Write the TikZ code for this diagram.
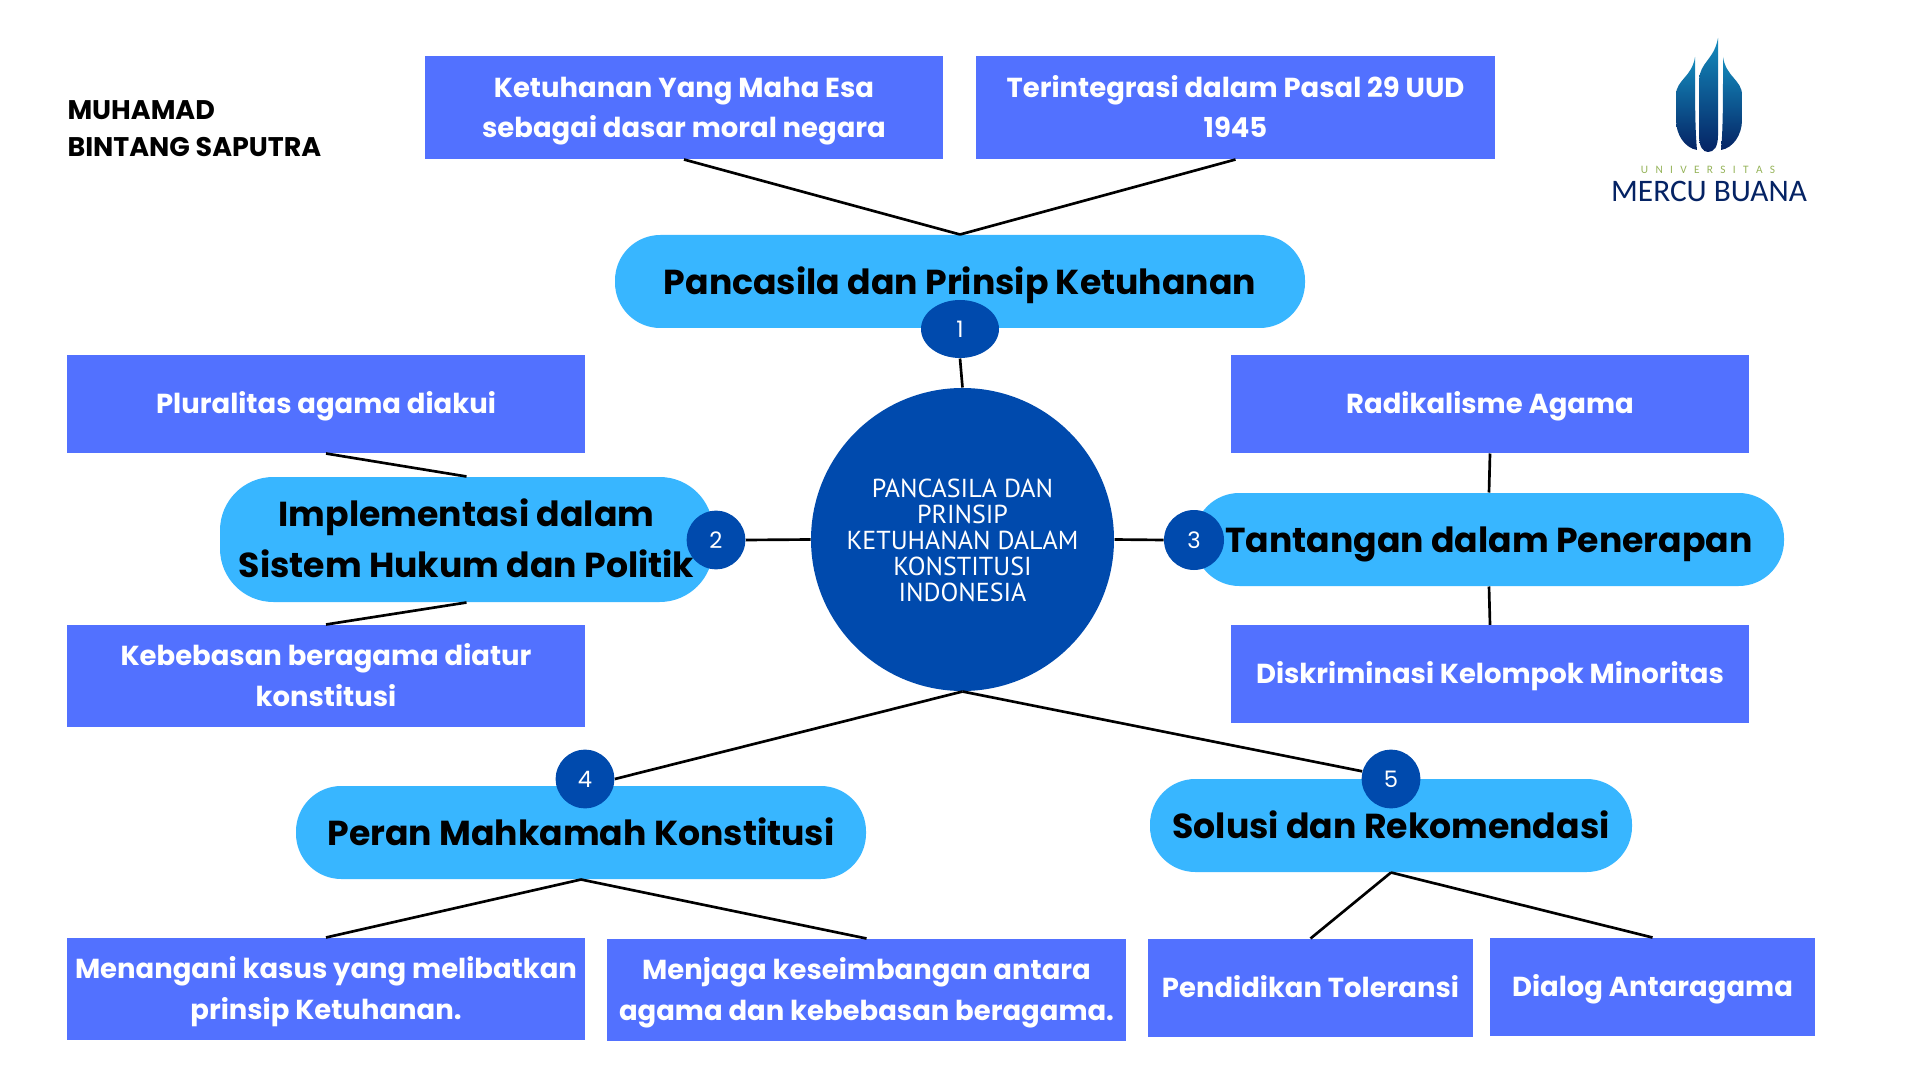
\documentclass[tikz,border=0pt]{standalone}
\usepackage{fontspec}
\setmainfont{Poppins}
\newfontfamily\circfont{PT Sans}
\newfontfamily\logofont{Carlito}
\usetikzlibrary{shapes.geometric}
\definecolor{boxblue}{RGB}{82,113,255}
\definecolor{pillblue}{RGB}{56,182,255}
\definecolor{deepblue}{RGB}{0,74,173}
\definecolor{logotop}{RGB}{20,140,190}
\definecolor{logobot}{RGB}{5,35,100}
\definecolor{logogreen}{RGB}{150,180,90}
\newcommand{\lineup}[1]{\rule{0pt}{#1}}
\tikzset{every picture/.style={line width=0.75pt}}
\tikzset{
  lift/.style={execute at begin node=\rule{0pt}{#1}},
  infobox/.style={fill=boxblue,text=white,align=center,inner sep=0pt,font=\fontsize{20.6}{30.5}\selectfont\bfseries,lift=23.2pt,execute at end node=\strut},
  topicpill/.style={fill=pillblue,text=black,align=center,rounded corners=34pt,inner sep=0pt,font=\fontsize{26}{38}\selectfont\bfseries,lift=30.2pt,execute at end node=\strut},
  numdot/.style={fill=deepblue,text=white,ellipse,inner sep=0pt,font=\fontsize{17}{20}\selectfont},
  link/.style={line width=2pt,black},
  blade/.style={top color=logotop,bottom color=logobot,shading angle=0},
}
\begin{document}
\begin{tikzpicture}[x=0.75pt,y=0.75pt,yscale=-1,xscale=1]
	\useasboundingbox (0,0) rectangle (1920,1080);
	\fill[white] (0,0) rectangle (1920,1080);

	% Text Node
	\node (author) [anchor=north west,inner sep=0pt,align=left,font=\fontsize{20.2}{27.5}\selectfont\bfseries] at (67,100) {MUHAMAD\\BINTANG SAPUTRA};

	%Shape: Boxes
	\node (ketuhanan) [infobox,minimum width=388.5pt,minimum height=77.25pt] at (684,107.5) {\lineup{24pt}Ketuhanan Yang Maha Esa\\sebagai dasar moral negara};
	\node (pasal) [infobox,minimum width=389.25pt,minimum height=77.25pt] at (1235.5,107.5) {\lineup{24pt}Terintegrasi dalam Pasal 29 UUD\\1945};
	\node (pluralitas) [infobox,minimum width=388.5pt,minimum height=73.5pt] at (326,404) {Pluralitas agama diakui};
	\node (kebebasan) [infobox,minimum width=388.5pt,minimum height=76.5pt] at (326,676) {\lineup{24pt}Kebebasan beragama diatur\\konstitusi};
	\node (radikal) [infobox,minimum width=388.5pt,minimum height=73.5pt] at (1490,404) {Radikalisme Agama};
	\node (diskriminasi) [infobox,minimum width=388.5pt,minimum height=73pt] at (1490,674) {Diskriminasi Kelompok Minoritas};
	\node (menangani) [infobox,minimum width=388.5pt,minimum height=76.5pt] at (326,989) {\lineup{24pt}Menangani kasus yang melibatkan\\prinsip Ketuhanan.};
	\node (menjaga) [infobox,minimum width=389.25pt,minimum height=76.5pt] at (866.5,990) {\lineup{24pt}Menjaga keseimbangan antara\\agama dan kebebasan beragama.};
	\node (pendidikan) [infobox,minimum width=243.75pt,minimum height=73.5pt] at (1310.5,988) {Pendidikan Toleransi};
	\node (dialog) [infobox,minimum width=243.75pt,minimum height=73.5pt] at (1652.5,987) {Dialog Antaragama};

	%Shape: Pills
	\node (pill1) [topicpill,minimum width=517.5pt,minimum height=69.75pt] at (960,281.5) {Pancasila dan Prinsip Ketuhanan};
	\node (pill2) [topicpill,rounded corners=40pt,minimum width=369.75pt,minimum height=93.75pt] at (466.5,539.5) {\lineup{30pt}Implementasi dalam\\Sistem Hukum dan Politik};
	\node (pill3) [topicpill,minimum width=442.5pt,minimum height=69.75pt] at (1489,539.5) {Tantangan dalam Penerapan};
	\node (pill4) [topicpill,minimum width=427.5pt,minimum height=69.75pt] at (581,832.5) {Peran Mahkamah Konstitusi};
	\node (pill5) [topicpill,minimum width=361.5pt,minimum height=69.75pt] at (1391,825.5) {Solusi dan Rekomendasi};

	%Shape: Centre
	\node (centre) [circle,fill=deepblue,text=white,align=center,minimum size=227.25pt,inner sep=0pt,font=\circfont\fontsize{19.5}{19.5}\selectfont] at (962.5,539.5) {\lineup{15.5pt}PANCASILA DAN\\PRINSIP\\KETUHANAN DALAM\\KONSTITUSI\\INDONESIA};

	%Shape: Numbers
	\node (num1) [numdot,minimum width=58.5pt,minimum height=43.5pt] at (960,329) {1};
	\node (num2) [numdot,minimum width=44pt,minimum height=44pt] at (716,540) {2};
	\node (num3) [numdot,minimum width=45pt,minimum height=45pt] at (1194,540) {3};
	\node (num4) [numdot,minimum width=44pt,minimum height=44pt] at (585,779) {4};
	\node (num5) [numdot,minimum width=44pt,minimum height=44pt] at (1391,779) {5};

	%Straight Lines
	\draw [link] (ketuhanan.south) -- (pill1.north);
	\draw [link] (pasal.south) -- (pill1.north);
	\draw [link] (num1.south) -- (centre.north);
	\draw [link] (num2.east) -- (centre.west);
	\draw [link] (centre.east) -- (num3.west);
	\draw [link] (pluralitas.south) -- (pill2.north);
	\draw [link] (kebebasan.north) -- (pill2.south);
	\draw [link] (radikal.south) -- (pill3.north);
	\draw [link] (pill3.south) -- (diskriminasi.north);
	\draw [link] (centre.south) -- (num4.east);
	\draw [link] (centre.south) -- (num5.165);
	\draw [link] (pill4.south) -- (menangani.north);
	\draw [link] (pill4.south) -- (menjaga.north);
	\draw [link] (pill5.south) -- (pendidikan.north);
	\draw [link] (pill5.south) -- (dialog.north);

	%Shape: Logo
	\shade [blade] (1695,57) .. controls (1692,77) and (1676,80) .. (1676,95) -- (1676,120) .. controls (1676,135) and (1685,148) .. (1697,150) .. controls (1695,130) and (1695,100) .. (1695,57) -- cycle;
	\shade [blade] (1718,38) .. controls (1714,60) and (1700,62) .. (1699,80) -- (1699,135) .. controls (1699,147) and (1703,152) .. (1708,152) .. controls (1714,152) and (1718,147) .. (1718,135) -- cycle;
	\shade [blade] (1723,57) .. controls (1726,77) and (1742,80) .. (1742,95) -- (1742,120) .. controls (1742,135) and (1733,148) .. (1721,150) .. controls (1723,130) and (1723,100) .. (1723,57) -- cycle;
	% Text Node
	\node (logotop) [text=logogreen,inner sep=0pt,font=\logofont\fontsize{8.5}{10}\selectfont] at (1708,170) {U\hskip5.5ptN\hskip5.5ptI\hskip5.5ptV\hskip5.5ptE\hskip5.5ptR\hskip5.5ptS\hskip5.5ptI\hskip5.5ptT\hskip5.5ptA\hskip5.5ptS};
	% Text Node
	\node (logoname) [text=logobot,inner sep=0pt,font=\logofont\fontsize{23.5}{25}\selectfont] at (1709,191) {MERCU BUANA};
\end{tikzpicture}
\end{document}
